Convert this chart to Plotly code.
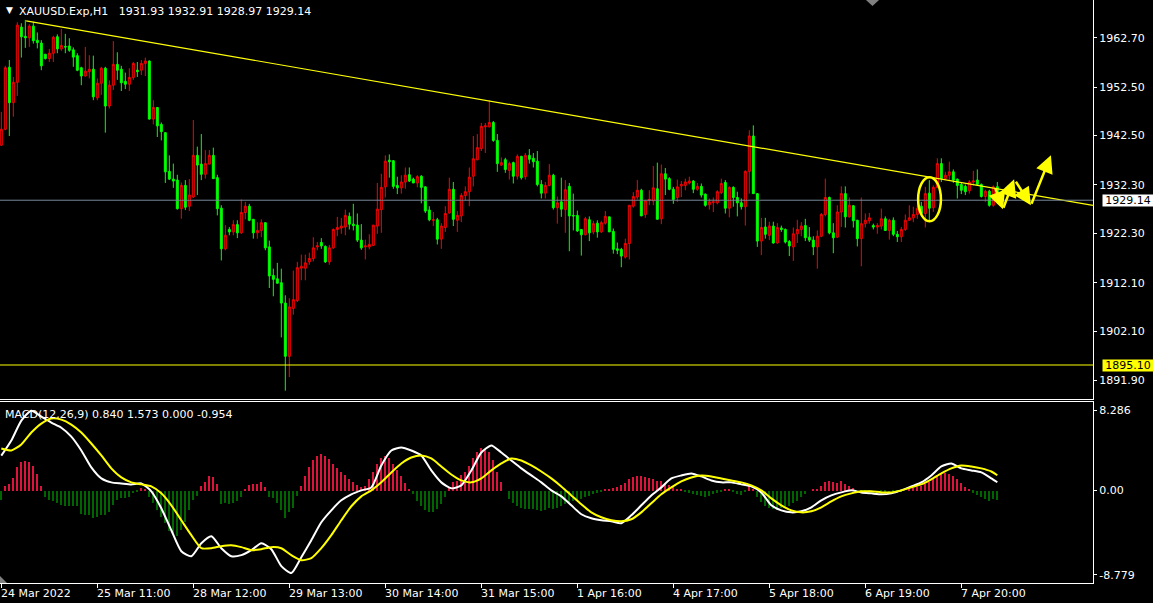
import plotly.graph_objects as go

# ---------------- data ----------------
BARS = list(range(250))
OPEN = [1940.5,1943.8,1956.6,1949.3,1953.5,1964.9,1963.0,1962.7,1965.1,1962.2,
1961.6,1959.3,1958.4,1959.5,1962.9,1960.4,1960.9,1961.0,1960.2,1959.0,
1956.5,1954.8,1955.7,1956.2,1950.3,1953.3,1956.4,1948.6,1952.9,1957.2,
1956.2,1953.7,1953.1,1954.5,1956.0,1956.0,1957.4,1957.9,1945.9,1948.3,
1944.8,1943.1,1935.1,1933.5,1933.3,1927.4,1932.2,1927.9,1929.8,1938.4,
1936.6,1934.5,1936.6,1938.4,1933.8,1927.5,1919.1,1923.1,1922.6,1924.1,
1922.4,1926.6,1927.9,1925.2,1922.4,1922.9,1924.5,1919.5,1913.6,1912.9,
1912.1,1907.9,1896.9,1906.8,1908.4,1915.1,1915.1,1916.4,1917.1,1919.5,
1920.4,1919.6,1916.4,1919.3,1923.1,1923.4,1923.6,1925.8,1924.2,1924.0,
1920.9,1919.5,1919.5,1919.8,1923.8,1927.2,1931.9,1937.4,1937.3,1932.2,
1931.7,1932.9,1934.4,1933.5,1932.7,1934.1,1931.9,1927.1,1925.0,1925.1,
1921.1,1923.5,1926.5,1931.4,1925.0,1925.9,1930.1,1930.9,1934.1,1937.5,
1939.8,1944.3,1944.3,1945.2,1941.5,1936.4,1937.5,1935.3,1936.9,1934.1,
1938.2,1934.0,1938.4,1937.8,1937.2,1932.4,1930.6,1932.2,1934.3,1927.6,
1928.8,1927.2,1932.0,1926.0,1926.0,1923.1,1922.0,1925.1,1922.6,1924.4,
1922.6,1924.4,1925.7,1922.7,1919.1,1919.0,1917.4,1920.2,1927.9,1929.8,
1931.2,1926.2,1929.1,1929.0,1931.5,1925.3,1934.6,1933.6,1931.4,1929.7,
1932.1,1932.2,1932.7,1933.1,1931.4,1932.0,1930.4,1928.2,1928.7,1928.6,
1930.7,1932.8,1927.5,1931.8,1929.7,1928.6,1927.8,1935.1,1942.4,1930.5,
1920.7,1923.6,1921.9,1923.8,1920.3,1923.4,1923.1,1920.6,1919.5,1922.2,
1923.1,1923.9,1921.5,1920.9,1919.5,1921.7,1926.2,1929.7,1922.4,1921.5,
1926.7,1930.5,1925.7,1928.0,1925.0,1921.2,1924.3,1924.9,1923.9,1923.6,
1923.8,1925.3,1922.9,1925.0,1922.1,1921.6,1923.1,1925.0,1925.5,1926.2,
1927.9,1926.4,1930.6,1927.6,1931.8,1936.7,1933.6,1934.3,1935.0,1933.5,
1932.4,1932.0,1931.1,1932.9,1933.3,1932.4,1929.9,1931.0,1928.1,1931.93]
HIGH = [1947.4,1956.9,1958.1,1954.6,1965.9,1965.7,1966.4,1965.5,1966.0,1963.8,
1962.2,1959.3,1960.4,1963.1,1963.4,1964.5,1963.5,1962.6,1960.7,1959.5,
1956.7,1960.8,1959.1,1959.0,1954.3,1956.7,1956.7,1953.9,1962.0,1959.7,
1956.9,1955.5,1956.4,1957.7,1957.7,1958.1,1958.6,1958.0,1949.8,1948.3,
1945.2,1943.1,1938.4,1936.7,1934.4,1932.8,1933.3,1933.5,1945.7,1940.2,
1942.8,1939.5,1939.5,1940.0,1934.4,1928.1,1924.0,1923.6,1925.0,1925.0,
1929.3,1928.8,1928.4,1925.2,1924.6,1925.2,1924.5,1920.8,1915.0,1916.2,
1915.0,1909.5,1908.9,1914.6,1916.4,1917.9,1917.9,1918.3,1921.5,1920.5,
1921.3,1919.8,1919.9,1923.3,1925.7,1925.5,1927.2,1926.6,1928.4,1926.4,
1924.2,1921.0,1922.1,1924.0,1932.7,1934.6,1938.4,1938.6,1937.4,1934.0,
1934.3,1935.9,1935.9,1933.8,1934.3,1934.3,1932.0,1927.9,1926.7,1925.5,
1924.4,1927.9,1933.8,1932.9,1926.9,1930.6,1932.0,1935.9,1942.4,1942.8,
1945.1,1945.1,1949.8,1945.5,1942.8,1938.0,1937.9,1937.1,1937.1,1938.6,
1938.3,1938.9,1939.7,1938.9,1939.3,1933.3,1932.9,1936.6,1934.6,1929.9,
1933.8,1933.3,1932.7,1930.5,1927.0,1923.1,1925.7,1925.8,1924.9,1925.0,
1924.9,1926.9,1925.7,1923.3,1920.4,1919.3,1921.2,1928.1,1930.8,1933.3,
1931.5,1929.0,1931.2,1936.2,1936.9,1936.5,1935.8,1933.9,1931.9,1933.4,
1933.1,1933.6,1934.0,1933.3,1932.7,1932.6,1930.5,1929.5,1929.7,1931.2,
1933.6,1933.3,1932.0,1932.0,1930.9,1929.5,1935.3,1943.6,1944.6,1930.6,
1925.5,1925.5,1924.7,1924.7,1924.4,1923.9,1923.3,1920.9,1923.5,1925.1,
1924.6,1925.3,1923.6,1921.7,1922.9,1926.5,1933.6,1929.9,1924.4,1928.1,
1932.0,1932.0,1929.7,1928.1,1925.1,1929.7,1926.4,1926.5,1924.3,1924.4,
1927.4,1925.8,1925.3,1925.6,1922.8,1923.6,1926.2,1928.1,1927.8,1928.1,
1928.8,1931.9,1933.3,1932.2,1937.8,1937.8,1935.0,1937.1,1935.5,1933.6,
1932.7,1932.4,1933.3,1935.2,1935.5,1932.6,1931.3,1931.3,1932.2,1932.91]
LOW = [1940.4,1943.6,1942.4,1946.4,1950.7,1958.6,1960.6,1960.8,1961.5,1960.5,
1956.0,1958.2,1957.7,1957.7,1959.5,1960.0,1959.5,1959.8,1956.7,1955.8,
1952.9,1954.7,1954.3,1949.8,1949.8,1950.9,1943.1,1948.1,1951.9,1954.0,
1951.7,1952.1,1951.7,1954.0,1954.6,1955.0,1954.8,1945.8,1944.8,1942.2,
1941.5,1932.7,1933.3,1931.7,1927.2,1925.3,1927.1,1926.9,1929.6,1930.2,
1933.3,1933.6,1936.6,1933.6,1926.0,1916.7,1918.8,1921.9,1921.9,1921.3,
1922.2,1925.2,1924.8,1921.2,1921.2,1921.5,1918.8,1911.0,1909.3,1911.9,
1900.8,1889.8,1892.6,1905.5,1908.1,1912.6,1912.6,1915.8,1916.5,1918.8,
1919.1,1916.2,1915.8,1919.1,1921.7,1922.2,1921.9,1923.1,1922.9,1920.5,
1918.9,1916.9,1919.0,1919.7,1922.2,1922.4,1929.7,1933.8,1931.5,1930.4,
1930.5,1931.5,1932.9,1932.7,1931.8,1928.5,1926.5,1924.8,1923.8,1920.0,
1919.1,1922.6,1926.4,1923.8,1922.6,1924.6,1929.1,1927.9,1932.0,1937.4,
1939.3,1938.9,1944.2,1941.2,1935.0,1936.2,1934.8,1933.4,1932.6,1933.4,
1933.4,1933.4,1936.7,1935.9,1932.0,1929.5,1929.5,1932.0,1927.2,1924.3,
1925.7,1922.4,1918.6,1922.9,1922.6,1917.7,1921.9,1920.7,1922.1,1921.4,
1922.4,1924.1,1922.6,1918.1,1918.0,1915.3,1917.1,1916.9,1927.6,1929.3,
1925.9,1925.5,1928.1,1928.1,1925.2,1924.2,1930.2,1931.2,1928.4,1928.8,
1929.8,1931.2,1932.4,1930.6,1931.1,1929.7,1927.8,1927.2,1926.7,1928.3,
1930.4,1926.4,1925.6,1927.8,1925.8,1927.2,1923.9,1930.5,1930.5,1919.5,
1917.8,1921.2,1920.9,1920.2,1920.2,1922.6,1920.2,1917.6,1916.6,1920.3,
1921.7,1920.7,1920.5,1917.8,1915.0,1921.5,1925.8,1922.1,1918.2,1921.4,
1923.6,1923.5,1925.6,1923.5,1919.6,1915.5,1923.5,1924.3,1923.1,1922.2,
1923.1,1922.8,1921.0,1921.7,1920.5,1920.5,1922.8,1924.9,1924.6,1925.3,
1925.8,1923.5,1925.0,1926.7,1931.6,1932.9,1933.3,1933.1,1932.7,1929.5,
1930.4,1930.2,1930.5,1932.2,1932.2,1929.7,1928.8,1927.8,1927.8,1928.97]
CLOSE = [1943.8,1956.5,1949.3,1953.5,1965.3,1962.9,1962.7,1965.1,1962.1,1961.7,
1956.9,1958.4,1959.5,1962.8,1960.4,1961.1,1960.8,1960.1,1958.7,1956.0,
1954.8,1955.8,1956.2,1950.5,1953.3,1956.4,1948.6,1952.9,1957.2,1956.0,
1953.4,1953.1,1954.5,1957.4,1955.7,1957.4,1957.9,1945.9,1948.3,1944.5,
1943.3,1935.0,1933.5,1933.1,1927.4,1932.2,1927.7,1930.2,1938.4,1936.4,
1934.5,1936.7,1938.4,1933.6,1927.4,1919.1,1921.9,1922.6,1924.1,1922.4,
1926.6,1927.9,1925.0,1922.4,1922.9,1924.5,1919.3,1913.5,1912.8,1912.0,
1907.9,1896.9,1907.1,1908.6,1915.2,1915.5,1916.2,1917.1,1919.3,1919.7,
1919.7,1916.4,1919.3,1923.1,1923.5,1923.8,1926.0,1924.2,1923.9,1920.9,
1919.3,1919.7,1920.0,1924.0,1927.3,1931.8,1937.2,1937.1,1932.0,1931.7,
1932.9,1934.3,1933.1,1932.7,1934.0,1931.8,1926.9,1925.1,1925.1,1921.1,
1923.8,1926.4,1931.4,1925.2,1926.0,1930.1,1930.9,1933.9,1937.7,1940.0,
1944.4,1944.5,1945.2,1941.5,1936.7,1936.9,1935.5,1936.7,1934.1,1938.2,
1933.8,1938.4,1937.6,1937.1,1932.4,1930.6,1932.2,1934.3,1927.6,1928.6,
1927.3,1931.3,1925.9,1925.9,1922.8,1922.0,1925.3,1922.4,1924.3,1922.6,
1924.5,1925.8,1922.6,1919.0,1918.8,1917.6,1920.2,1928.1,1929.9,1931.2,
1925.9,1929.0,1929.3,1931.7,1925.2,1934.6,1933.5,1931.4,1929.3,1931.9,
1932.4,1932.9,1933.1,1931.4,1932.0,1930.2,1928.1,1928.8,1928.8,1930.9,
1932.6,1927.5,1931.8,1929.7,1928.6,1927.8,1935.1,1942.4,1930.5,1920.7,
1923.5,1922.1,1923.8,1920.3,1923.5,1923.1,1920.5,1919.7,1922.2,1923.1,
1923.8,1921.4,1920.9,1919.5,1921.7,1926.2,1929.7,1922.4,1921.4,1926.7,
1930.5,1925.7,1928.1,1924.9,1921.2,1924.3,1925.0,1925.5,1923.6,1923.9,
1925.3,1922.9,1925.0,1922.1,1921.6,1923.1,1925.0,1925.5,1926.2,1927.4,
1926.4,1930.5,1927.5,1931.8,1936.7,1933.6,1934.3,1935.0,1933.3,1932.2,
1931.2,1930.9,1932.9,1933.1,1932.4,1929.9,1931.0,1928.1,1931.9,1929.14]

# MACD window: main line (white) and signal (yellow) read every 2.5 bars
MACD_BARS = [0,2.5,5,7.5,10,12.5,15,17.5,20,22.5,25,27.5,30,32.5,35,37.5,40,42.5,45,47.5,
50,52.5,55,57.5,60,62.5,65,67.5,70,72.5,75,77.5,80,82.5,85,87.5,90,92.5,95,97.5,
100,102.5,105,107.5,110,112.5,115,117.5,120,122.5,125,127.5,130,132.5,135,137.5,140,142.5,145,147.5,
150,152.5,155,157.5,160,162.5,165,167.5,170,172.5,175,177.5,180,182.5,185,187.5,190,192.5,195,197.5,
200,202.5,205,207.5,210,212.5,215,217.5,220,222.5,225,227.5,230,232.5,235,237.5,240,242.5,245,247.5,249]
MACD_MAIN = [3.6,5.17,7.24,8.27,7.65,7.03,6.5,5.58,4.14,2.38,
1.24,0.83,0.72,0.62,0.72,-0.1,-1.86,-4.14,-6.31,-6.83,
-5.48,-4.76,-6.0,-6.83,-6.72,-6.2,-5.48,-6.1,-7.86,-8.58,
-6.93,-5.17,-3.31,-2.07,-1.03,-0.41,0.0,0.31,2.59,4.14,
4.45,4.14,3.62,2.07,0.83,0.21,0.52,2.07,3.93,4.65,
3.93,3.10,2.28,1.55,0.83,0.0,-0.62,-1.55,-2.48,-2.90,
-3.10,-3.21,-3.41,-2.59,-1.55,-0.52,0.31,1.24,1.55,1.76,
1.45,1.03,0.83,0.83,0.62,0.41,-0.21,-1.55,-2.07,-2.28,
-2.17,-1.76,-1.03,-0.52,-0.21,0.0,-0.21,-0.31,-0.41,-0.31,
0.0,0.41,0.83,1.55,2.48,2.79,2.28,2.07,1.86,1.24,0.84]
MACD_SIGNAL = [4.34,4.14,4.76,6.0,6.93,7.45,7.34,6.83,6.0,4.86,
3.62,2.28,1.34,0.83,0.62,0.41,-0.31,-1.55,-3.10,-4.65,
-6.0,-6.0,-5.79,-5.69,-5.89,-6.2,-6.1,-5.89,-6.0,-6.72,
-7.24,-7.03,-6.0,-4.65,-3.10,-1.65,-0.62,0.0,0.83,1.86,
2.79,3.41,3.62,3.31,2.48,1.65,1.03,0.83,1.24,2.07,
2.79,3.31,3.10,2.59,1.96,1.24,0.41,-0.52,-1.45,-2.28,
-2.79,-3.10,-3.21,-3.0,-2.28,-1.34,-0.41,0.31,0.93,1.34,
1.55,1.45,1.24,1.03,0.83,0.52,0.0,-0.83,-1.55,-2.07,
-2.28,-2.17,-1.76,-1.14,-0.62,-0.31,-0.1,-0.1,-0.21,-0.21,
0.0,0.31,0.62,1.14,1.76,2.28,2.59,2.48,2.28,1.96,1.573]
MACD_HIST = [-0.93,0.52,0.72,1.31,2.52,3.03,3.14,3.03,2.59,1.76,
0.52,-0.59,-0.93,-1.10,-1.28,-1.45,-1.55,-1.55,-1.62,-1.62,
-2.38,-2.48,-2.48,-2.83,-2.66,-2.48,-2.48,-2.14,-1.45,-0.93,
-0.76,-0.76,-0.59,-0.24,-0.10,0.28,0.17,-0.59,-1.28,-1.97,
-2.66,-3.34,-4.21,-4.38,-4.72,-4.03,-3.28,-1.97,-0.93,-0.52,
0.52,0.97,1.59,1.48,0.72,-1.34,-1.28,-1.34,-1.21,-1.10,
-0.59,0.17,0.62,0.72,0.72,0.97,0.45,-0.59,-0.76,-1.21,
-1.97,-2.83,-2.14,-1.79,-0.52,0.5,1.5,2.5,3.2,3.6,
3.8,3.6,3.3,2.8,2.4,2.0,1.6,1.2,0.9,0.6,
0.4,0.5,1.2,2.0,2.8,3.4,3.6,3.4,2.8,2.2,
1.5,0.8,0.2,-0.3,-1.0,-1.6,-2.0,-2.2,-2.2,-1.9,
-1.4,-0.6,0.3,0.9,1.0,1.6,2.0,2.6,3.4,4.0,
4.4,4.2,4.0,3.2,2.0,0.9,0.0,-0.8,-1.3,-1.6,
-1.8,-1.9,-1.9,-1.9,-2.0,-2.1,-2.0,-1.8,-1.9,-1.8,
-1.6,-1.4,-1.2,-1.0,-0.9,-0.8,-0.6,-0.5,-0.3,-0.2,
-0.1,0.1,0.2,0.3,0.4,0.6,0.8,1.2,1.4,1.5,
1.5,1.4,1.3,1.2,1.0,1.0,0.8,0.6,0.4,0.2,
0.1,-0.1,-0.2,-0.3,-0.4,-0.5,-0.6,-0.5,-0.3,-0.2,
-0.1,0.1,0.2,-0.1,-0.3,-0.4,-0.1,0.5,0.2,-0.6,
-1.2,-1.6,-1.8,-1.9,-2.0,-1.8,-1.7,-1.6,-1.3,-1.0,
-0.6,-0.3,0.0,0.1,0.2,0.5,0.9,1.0,0.9,0.8,
1.0,0.7,0.5,0.3,0.0,-0.1,-0.2,-0.2,-0.3,-0.3,
-0.2,-0.2,-0.3,-0.2,-0.2,-0.1,0.0,0.1,0.3,0.4,
0.5,0.7,0.9,1.2,1.6,1.8,1.9,1.8,1.5,1.2,
0.8,0.4,0.1,-0.2,-0.4,-0.6,-0.8,-1.0,-0.85,-0.954]

TIME_TICK_BARS = [0, 24, 48, 72, 96, 120, 144, 168, 192, 216, 240]
TIME_TICK_TEXT = ["24 Mar 2022", "25 Mar 11:00", "28 Mar 12:00", "29 Mar 13:00",
                  "30 Mar 14:00", "31 Mar 15:00", "1 Apr 16:00", "4 Apr 17:00",
                  "5 Apr 18:00", "6 Apr 19:00", "7 Apr 20:00"]
PRICE_TICKS = [1962.70, 1952.50, 1942.50, 1932.30, 1922.30, 1912.10, 1902.10, 1891.90]
MACD_TICKS = [8.286, 0.0, -8.779]
MACD_TICK_TEXT = ["8.286", "0.00", "-8.779"]

BID = 1929.14
SUPPORT = 1895.10
TREND_BARS = [6.2, 272.9]
TREND_PRICES = [1966.2, 1928.06]
ELLIPSE_BARS = [229.2, 234.9]
ELLIPSE_PRICES = [1924.8, 1933.9]
# yellow zigzag arrows: (tail bar, tail price, head bar, head price)
ARROWS = [(248.4, 1931.82, 250.4, 1927.27),
          (250.4, 1927.27, 253.2, 1933.48),
          (253.4, 1933.27, 257.4, 1928.10),
          (257.4, 1928.10, 262.4, 1938.44)]

HEADER = "XAUUSD.Exp,H1\u00a0\u00a0 1931.93 1932.91 1928.97 1929.14"
MACD_LABEL = "MACD(12,26,9) 0.840 1.573 0.000 -0.954"

# ---------------- figure ----------------
FONT = "DejaVu Sans"
W, H = 1153, 603
ML, MR, MT, MB = 0, 60, 0, 20
PH = H - MT - MB
PW = W - ML - MR
MAIN_BOTTOM = 1 - 398.5 / PH
MACD_TOP = 1 - 401.5 / PH

fig = go.Figure()

fig.add_trace(go.Candlestick(
    x=BARS, open=OPEN, high=HIGH, low=LOW, close=CLOSE,
    increasing=dict(line=dict(color="#ff0000", width=1), fillcolor="#000000"),
    decreasing=dict(line=dict(color="#00ff00", width=1), fillcolor="#00ff00"),
    whiskerwidth=0, hoverinfo="skip", showlegend=False, xaxis="x", yaxis="y"))

fig.add_trace(go.Scatter(
    x=TREND_BARS, y=TREND_PRICES, mode="lines",
    line=dict(color="#ffff00", width=1.2), hoverinfo="skip", showlegend=False,
    xaxis="x", yaxis="y"))

hist_colors = ["#dc143c" if v > 0 else "#006400" for v in MACD_HIST]
fig.add_trace(go.Bar(
    x=BARS, y=MACD_HIST, width=0.22, marker=dict(color=hist_colors, line=dict(width=0)),
    hoverinfo="skip", showlegend=False, xaxis="x2", yaxis="y2"))
fig.add_trace(go.Scatter(
    x=MACD_BARS, y=MACD_MAIN, mode="lines", line=dict(color="#ffffff", width=2, shape="spline", smoothing=0.6),
    hoverinfo="skip", showlegend=False, xaxis="x2", yaxis="y2"))
fig.add_trace(go.Scatter(
    x=MACD_BARS, y=MACD_SIGNAL, mode="lines", line=dict(color="#ffff00", width=2, shape="spline", smoothing=0.6),
    hoverinfo="skip", showlegend=False, xaxis="x2", yaxis="y2"))

x_range = [-0.33, 272.92]
axis_font = dict(family=FONT, size=11, color="#ffffff")

fig.update_layout(
    width=W, height=H,
    margin=dict(l=ML, r=MR, t=MT, b=MB, pad=0, autoexpand=False),
    paper_bgcolor="#000000", plot_bgcolor="#000000",
    showlegend=False, bargap=0,
    font=dict(family=FONT, size=11, color="#ffffff"),
    xaxis=dict(domain=[0, 1], range=x_range, anchor="y",
               showline=True, linecolor="#ffffff", linewidth=1,
               showgrid=False, zeroline=False, showticklabels=False, ticks="",
               rangeslider=dict(visible=False), fixedrange=True),
    yaxis=dict(domain=[MAIN_BOTTOM, 1], range=[1888.18, 1970.5], side="right",
               showline=True, linecolor="#ffffff", linewidth=1,
               showgrid=False, zeroline=False,
               ticks="outside", ticklen=3, tickcolor="#ffffff", tickwidth=1,
               tickvals=PRICE_TICKS, ticktext=[f"{v:.2f}" for v in PRICE_TICKS],
               tickfont=axis_font, fixedrange=True),
    xaxis2=dict(domain=[0, 1], range=x_range, anchor="y2", matches="x",
                showline=True, mirror=True, linecolor="#ffffff", linewidth=1,
                showgrid=False, zeroline=False, showticklabels=False,
                ticks="outside", ticklen=4, tickcolor="#ffffff", tickwidth=1,
                tickvals=TIME_TICK_BARS, fixedrange=True),
    yaxis2=dict(domain=[0, MACD_TOP], range=[-9.61, 9.22], side="right",
                showline=True, linecolor="#ffffff", linewidth=1,
                showgrid=False, zeroline=False,
                ticks="outside", ticklen=3, tickcolor="#ffffff", tickwidth=1,
                tickvals=MACD_TICKS, ticktext=MACD_TICK_TEXT,
                tickfont=axis_font, fixedrange=True),
)

shapes = [
    dict(type="line", xref="x domain", x0=0, x1=1, yref="y", y0=SUPPORT, y1=SUPPORT,
         line=dict(color="#ffff00", width=1)),
    dict(type="line", xref="x domain", x0=0, x1=1, yref="y", y0=BID, y1=BID,
         line=dict(color="#778899", width=1)),
    dict(type="circle", xref="x", yref="y",
         x0=ELLIPSE_BARS[0], x1=ELLIPSE_BARS[1], y0=ELLIPSE_PRICES[0], y1=ELLIPSE_PRICES[1],
         line=dict(color="#ffff00", width=2.5)),
    # chart-shift marker at top and corner marker at bottom-left
    dict(type="path", xref="paper", yref="paper",
         path=f"M {866/PW},{1} L {879/PW},{1} L {872.5/PW},{1-6/PH} Z",
         fillcolor="#808080", line=dict(width=0)),
    dict(type="path", xref="paper", yref="paper",
         path=f"M 0,{7/PH} L 0,0 L {7/PW},0 Z",
         fillcolor="#808080", line=dict(width=0)),
]
fig.update_layout(shapes=shapes)

ann = []
ann.append(dict(text="▼", xref="paper", yref="paper", x=0, y=1, xanchor="left", yanchor="top",
                xshift=4, yshift=-3, showarrow=False, font=dict(family=FONT, size=9, color="#ffffff")))
ann.append(dict(text=HEADER, xref="paper", yref="paper", x=0, y=1, xanchor="left", yanchor="top",
                xshift=17, yshift=-3, showarrow=False, font=dict(family=FONT, size=11, color="#ffffff")))
ann.append(dict(text=MACD_LABEL, xref="paper", yref="paper", x=0, y=MACD_TOP, xanchor="left",
                yanchor="top", xshift=3, yshift=-4, showarrow=False,
                font=dict(family=FONT, size=11, color="#ffffff")))
for b, t in zip(TIME_TICK_BARS, TIME_TICK_TEXT):
    ann.append(dict(text=t, xref="x2", yref="paper", x=b, y=0, xanchor="left", yanchor="top",
                    xshift=-2, yshift=-2, showarrow=False,
                    font=dict(family=FONT, size=11, color="#ffffff")))
ann.append(dict(text=f"{BID:.2f}", xref="paper", yref="y", x=1, y=BID, xanchor="left",
                yanchor="middle", xshift=9, showarrow=False, bgcolor="#ffffff",
                width=50, height=11, borderpad=0, font=dict(family=FONT, size=11, color="#000000")))
ann.append(dict(text=f"{SUPPORT:.2f}", xref="paper", yref="y", x=1, y=SUPPORT, xanchor="left",
                yanchor="middle", xshift=9, showarrow=False, bgcolor="#ffff00",
                width=50, height=11, borderpad=0, font=dict(family=FONT, size=11, color="#000000")))
for tx, ty, hx, hy in ARROWS:
    ann.append(dict(text="", xref="x", yref="y", axref="x", ayref="y",
                    x=hx, y=hy, ax=tx, ay=ty, showarrow=True,
                    arrowhead=2, arrowsize=1.4, arrowwidth=2.5, arrowcolor="#ffff00"))
fig.update_layout(annotations=ann)

fig.write_html("out.html", config={"displayModeBar": False},
               post_script="document.body.style.margin='0';document.body.style.overflow='hidden';")
